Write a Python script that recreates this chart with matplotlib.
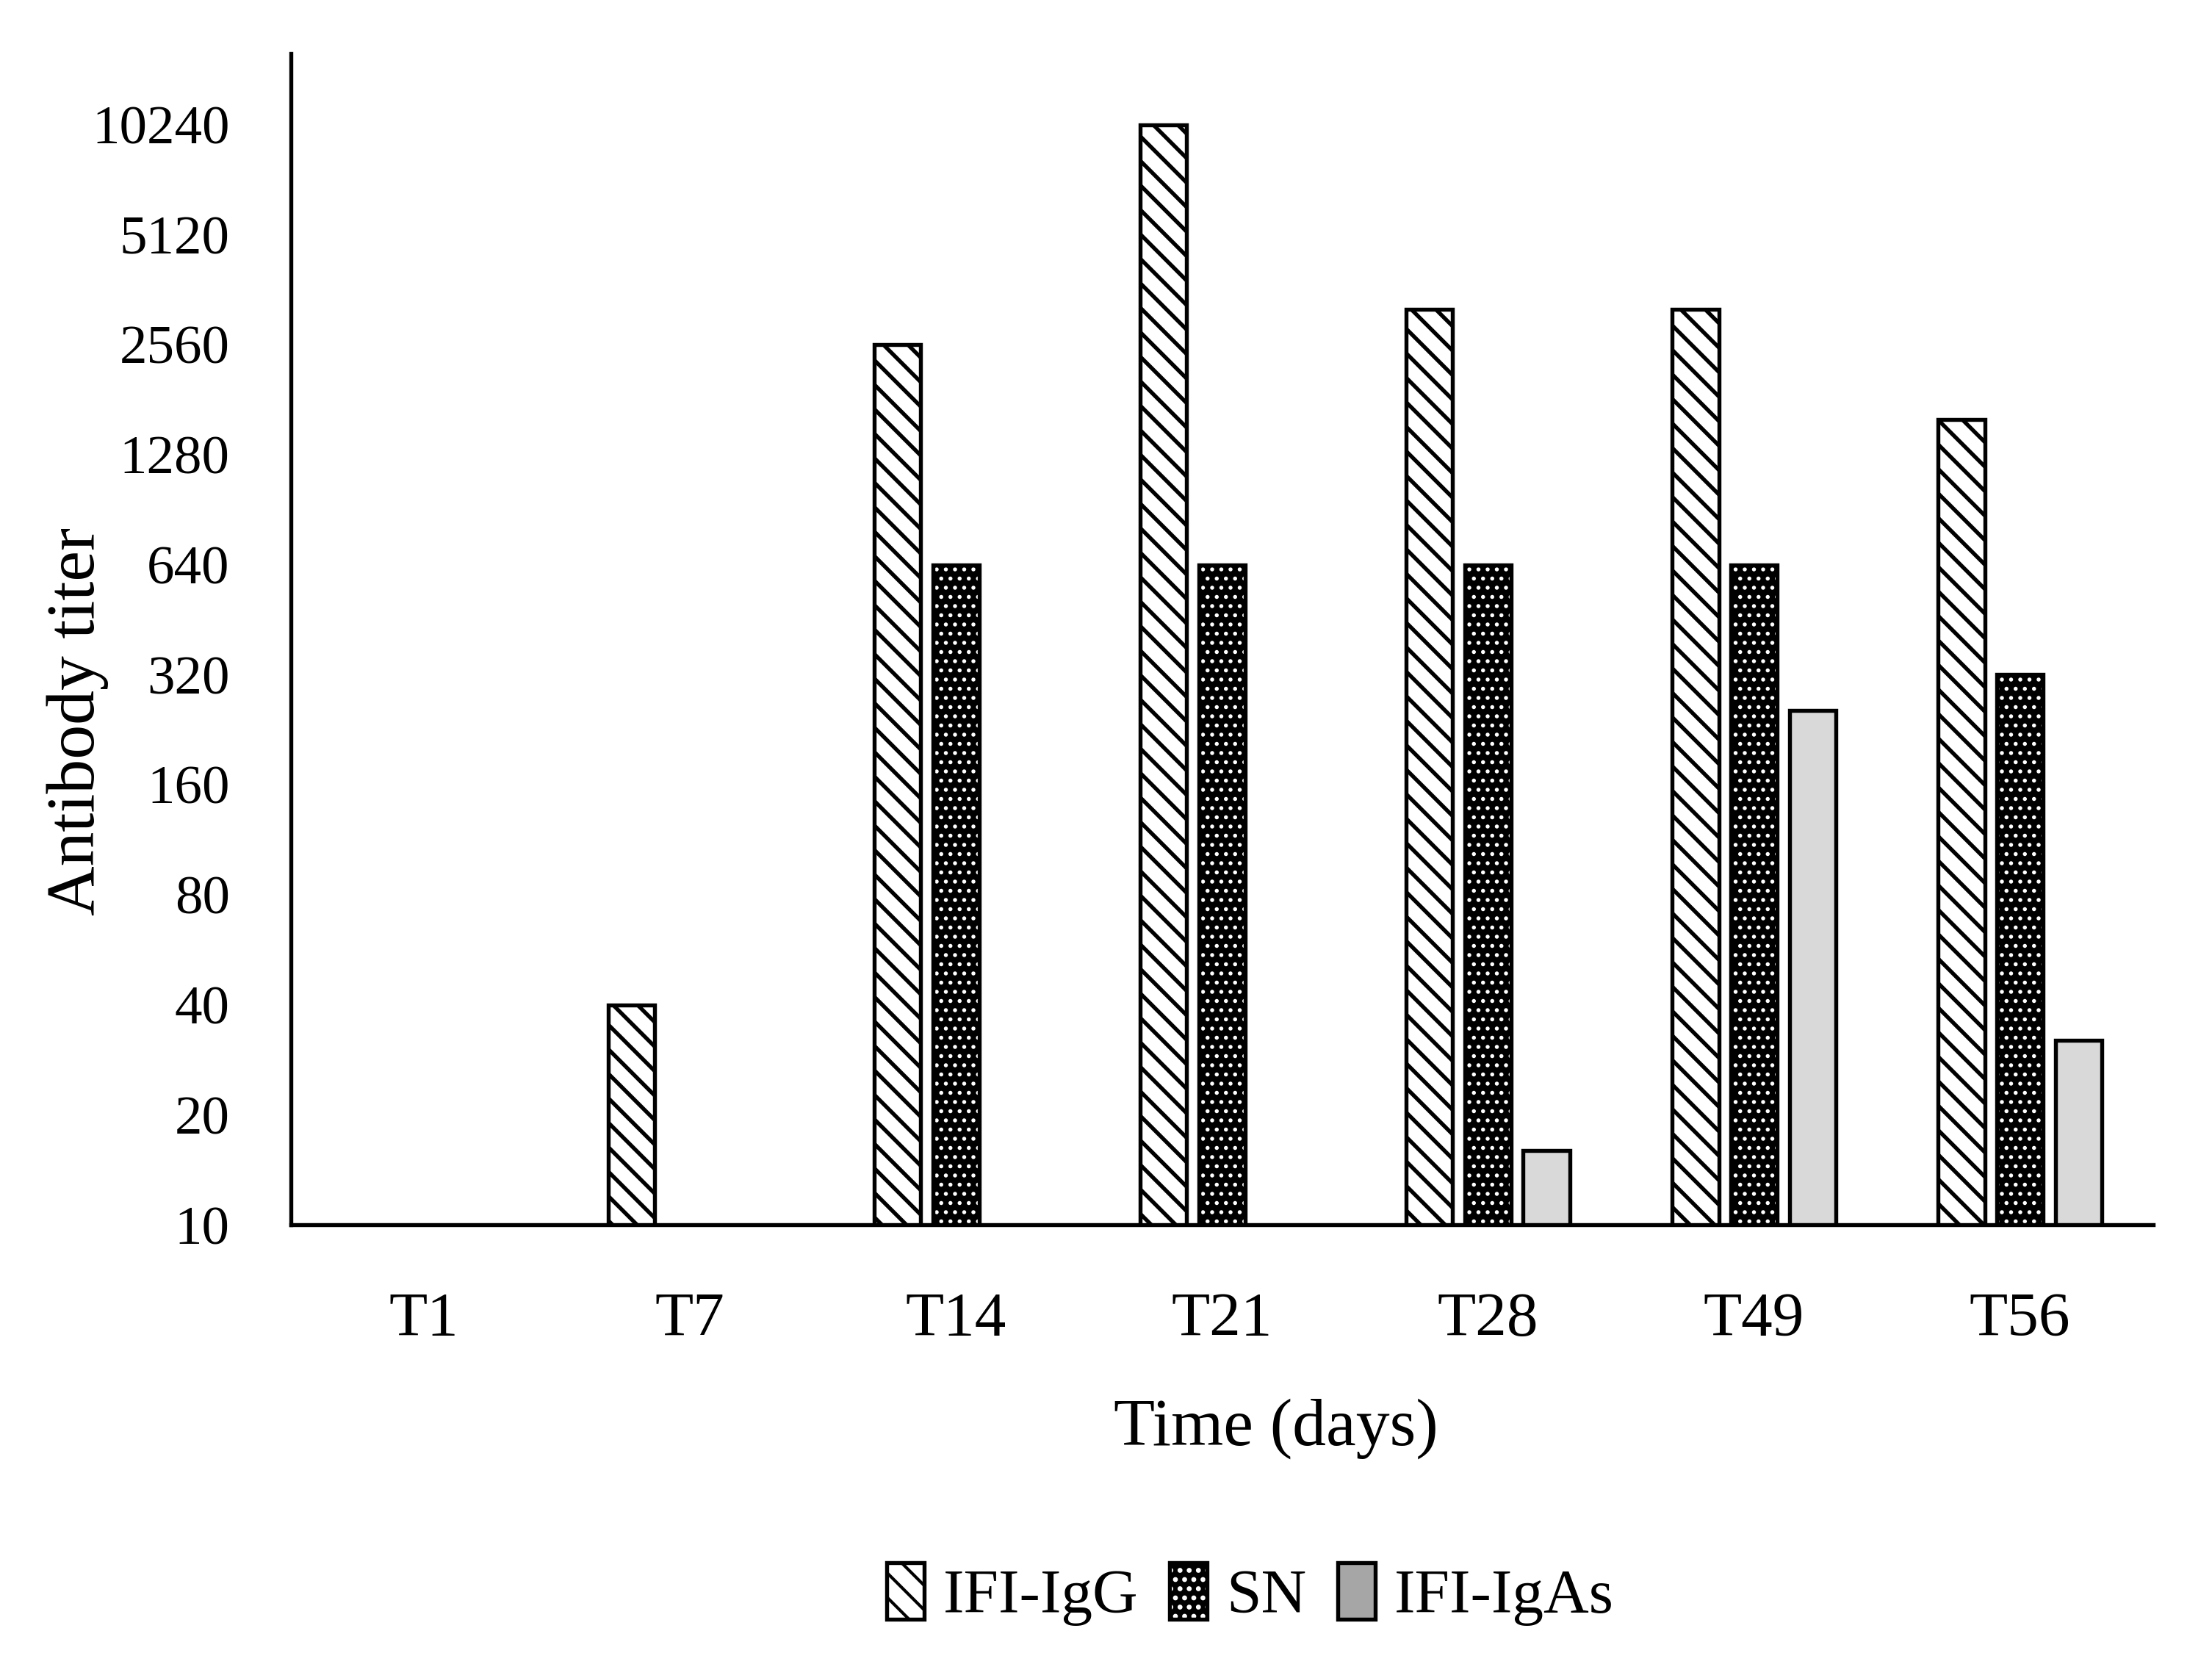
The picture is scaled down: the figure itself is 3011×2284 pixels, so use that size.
import numpy as np
import matplotlib
matplotlib.use('Agg')
import matplotlib.pyplot as plt
from matplotlib.patches import Patch
from matplotlib.legend_handler import HandlerTuple

plt.rcParams['font.family'] = ['Liberation Serif', 'DejaVu Serif']

# titers (nan = no bar)
times = ['T1', 'T7', 'T14', 'T21', 'T28', 'T49', 'T56']
igg = [np.nan, 40, 2560, 10240, 3200, 3200, 1600]
sn = [np.nan, np.nan, 640, 640, 640, 640, 320]
igas = [np.nan, np.nan, np.nan, np.nan, 16, 256, 32]
yticks = [10, 20, 40, 80, 160, 320, 640, 1280, 2560, 5120, 10240]

x = np.arange(len(times))
w = 0.175
off = 0.22

fig = plt.figure(figsize=(3012/300, 2284/300), dpi=300)
ax = fig.add_axes([0.1315, 0.27, 0.8415, 0.698])

with plt.rc_context({'hatch.linewidth': 1.3}):
    ax.bar(x - off, igg, w, color='white', edgecolor='black',
           hatch='\\\\\\', linewidth=1.3, zorder=2)
    h_igg = Patch(facecolor='white', edgecolor='black', hatch='\\\\\\', linewidth=1.3)
# SN: black with white dots, then outline on top
with plt.rc_context({'hatch.linewidth': 0.7}):
    ax.bar(x, sn, w, color='black', edgecolor='white', hatch='....',
           linewidth=0, zorder=2)
    h_sn_fill = Patch(facecolor='black', edgecolor='white', hatch='....', linewidth=0)
ax.bar(x, sn, w, fill=False, edgecolor='black', linewidth=1.3, zorder=3)
h_sn_edge = Patch(fill=False, edgecolor='black', linewidth=1.3)
ax.bar(x + off, igas, w, color='#d9d9d9', edgecolor='black',
       linewidth=1.3, zorder=2)
h_igas = Patch(facecolor='#a6a6a6', edgecolor='black', linewidth=1.3)

ax.set_yscale('log', base=2)
ax.set_ylim(10, 16000)
ax.set_xlim(-0.5, 6.5)
ax.set_yticks(yticks)
ax.set_yticklabels([str(t) for t in yticks])
ax.minorticks_off()
ax.set_xticks(x)
ax.set_xticklabels(times)
ax.tick_params(axis='both', length=0, labelsize=18)
ax.tick_params(axis='x', pad=22, labelsize=20.5)
ax.tick_params(axis='y', pad=20)

for tag in ['top', 'right']:
    ax.spines[tag].set_visible(False)
for tag in ['left', 'bottom']:
    ax.spines[tag].set_linewidth(1.3)
    ax.spines[tag].set_zorder(4)

ax.set_xlabel('Time (days)', fontsize=22, labelpad=16)
ax.xaxis.set_label_coords(0.529, -0.148)
ax.set_ylabel('Antibody titer', fontsize=22.5, labelpad=9)
ax.yaxis.set_label_coords(-0.098, 0.43)

fig.legend([h_igg, (h_sn_fill, h_sn_edge), h_igas], ['IFI-IgG', 'SN', 'IFI-IgAs'],
           handler_map={tuple: HandlerTuple(ndivide=1)},
           loc='center', bbox_to_anchor=(0.565, 0.05), ncol=3, frameon=False,
           fontsize=20.5, handlelength=0.6, handleheight=1.0, handletextpad=0.3,
           columnspacing=0.5)

fig.savefig('out.png', dpi=300)
